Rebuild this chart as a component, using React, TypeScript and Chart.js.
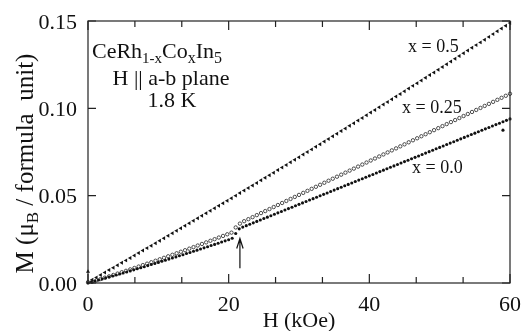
import React, { useEffect, useRef } from 'react';
import { Chart, registerables } from 'chart.js';

Chart.register(...registerables);

// ---- axis ticks ----
const X_TICKS = [0, 20, 40, 60];
const X_TICK_LABELS = ['0', '20', '40', '60'];
const X_MINOR_TICKS = [6.667, 13.333, 26.667, 33.333, 46.667, 53.333];
const Y_TICKS = [0, 0.05, 0.1, 0.15];
const Y_TICK_LABELS = ['0.00', '0.05', '0.10', '0.15'];

// ---- series: x = 0.5 (triangles) ----
const H_X05 = [0, 0.6, 1.2, 1.8, 2.4, 3, 3.6, 4.2, 4.8, 5.4, 6, 6.6, 7.2, 7.8, 8.4, 9, 9.6, 10.2, 10.8, 11.4,
  12, 12.6, 13.2, 13.8, 14.4, 15, 15.6, 16.2, 16.8, 17.4, 18, 18.6, 19.2, 19.8, 20.4, 21, 21.6, 22.2, 22.8, 23.4,
  24, 24.6, 25.2, 25.8, 26.4, 27, 27.6, 28.2, 28.8, 29.4, 30, 30.6, 31.2, 31.8, 32.4, 33, 33.6, 34.2, 34.8, 35.4,
  36, 36.6, 37.2, 37.8, 38.4, 39, 39.6, 40.2, 40.8, 41.4, 42, 42.6, 43.2, 43.8, 44.4, 45, 45.6, 46.2, 46.8, 47.4,
  48, 48.6, 49.2, 49.8, 50.4, 51, 51.6, 52.2, 52.8, 53.4, 54, 54.6, 55.2, 55.8, 56.4, 57, 57.6, 58.2, 58.8, 59.4, 60];
const M_X05 = [0.0065, 0.00183, 0.00321, 0.0046, 0.00599, 0.00738, 0.00877, 0.01016, 0.01156, 0.01295,
  0.01435, 0.01576, 0.01716, 0.01857, 0.01997, 0.02138, 0.0228, 0.02421, 0.02563, 0.02704,
  0.02847, 0.02989, 0.03131, 0.03274, 0.03417, 0.0356, 0.03703, 0.03847, 0.0399, 0.04134,
  0.04278, 0.04423, 0.04567, 0.04712, 0.04857, 0.05002, 0.05147, 0.05293, 0.05439, 0.05585,
  0.05731, 0.05877, 0.06024, 0.06171, 0.06318, 0.06465, 0.06612, 0.0676, 0.06908, 0.07056,
  0.07204, 0.07353, 0.07501, 0.0765, 0.07799, 0.07949, 0.08098, 0.08248, 0.08398, 0.08548,
  0.08698, 0.08849, 0.09, 0.0915, 0.09302, 0.09453, 0.09605, 0.09756, 0.09908, 0.1006,
  0.10213, 0.10366, 0.10518, 0.10672, 0.10825, 0.10978, 0.11132, 0.11286, 0.1144, 0.11594,
  0.11749, 0.11903, 0.12058, 0.12213, 0.12369, 0.12524, 0.1268, 0.12836, 0.12992, 0.13148,
  0.13305, 0.13462, 0.13619, 0.13776, 0.13933, 0.14091, 0.14249, 0.14407, 0.14565, 0.14723, 0.14882];

// ---- series: x = 0.25 (open circles) ----
const H_X025 = [0, 0.6, 1.2, 1.8, 2.4, 3, 3.6, 4.2, 4.8, 5.4, 6, 6.6, 7.2, 7.8, 8.4, 9, 9.6, 10.2, 10.8, 11.4,
  12, 12.6, 13.2, 13.8, 14.4, 15, 15.6, 16.2, 16.8, 17.4, 18, 18.6, 19.2, 19.8, 20.4, 21, 21.6,
  22.2, 22.8, 23.4, 24, 24.6, 25.2, 25.8, 26.4, 27, 27.6, 28.2, 28.8, 29.4, 30, 30.6, 31.2, 31.8, 32.4,
  33, 33.6, 34.2, 34.8, 35.4, 36, 36.6, 37.2, 37.8, 38.4, 39, 39.6, 40.2, 40.8, 41.4, 42, 42.6, 43.2,
  43.8, 44.4, 45, 45.6, 46.2, 46.8, 47.4, 48, 48.6, 49.2, 49.8, 50.4, 51, 51.6, 52.2, 52.8, 53.4, 54,
  54.6, 55.2, 55.8, 56.4, 57, 57.6, 58.2, 58.8, 59.4, 60];
const M_X025 = [0.0005, 0.00075, 0.00151, 0.00228, 0.00305, 0.00382, 0.0046, 0.00539, 0.00618, 0.00698,
  0.00779, 0.0086, 0.00941, 0.01024, 0.01106, 0.0119, 0.01274, 0.01358, 0.01443, 0.01529,
  0.01615, 0.01702, 0.01789, 0.01877, 0.01966, 0.02055, 0.02145, 0.02235, 0.02326, 0.02417,
  0.02509, 0.02602, 0.02695, 0.02789, 0.02883, 0.0318, 0.034,
  0.03539, 0.03654, 0.0377, 0.03886, 0.04002, 0.04118, 0.04233, 0.04349, 0.04465, 0.04581,
  0.04697, 0.04812, 0.04928, 0.05044, 0.0516, 0.05276, 0.05391, 0.05507, 0.05623, 0.05739,
  0.05855, 0.0597, 0.06086, 0.06202, 0.06318, 0.06434, 0.06549, 0.06665, 0.06781, 0.06897,
  0.07013, 0.07128, 0.07244, 0.0736, 0.07476, 0.07592, 0.07707, 0.07823, 0.07939, 0.08055,
  0.08171, 0.08286, 0.08402, 0.08518, 0.08634, 0.0875, 0.08865, 0.08981, 0.09097, 0.09213,
  0.09329, 0.09444, 0.0956, 0.09676, 0.09792, 0.09908, 0.10023, 0.10139, 0.10255, 0.10371,
  0.10487, 0.10602, 0.10718, 0.10834];

// ---- series: x = 0.0 (filled dots) ----
const H_X00 = [0, 0.5, 1, 1.5, 2, 2.5, 3, 3.5, 4, 4.5, 5, 5.5, 6, 6.5, 7, 7.5, 8, 8.5, 9, 9.5,
  10, 10.5, 11, 11.5, 12, 12.5, 13, 13.5, 14, 14.5, 15, 15.5, 16, 16.5, 17, 17.5, 18, 18.5, 19, 19.5,
  20, 20.5, 21, 21.5, 22, 22.5, 23, 23.5, 24, 24.5, 25, 25.5, 26, 26.5, 27, 27.5, 28, 28.5, 29, 29.5,
  30, 30.5, 31, 31.5, 32, 32.5, 33, 33.5, 34, 34.5, 35, 35.5, 36, 36.5, 37, 37.5, 38, 38.5, 39, 39.5,
  40, 40.5, 41, 41.5, 42, 42.5, 43, 43.5, 44, 44.5, 45, 45.5, 46, 46.5, 47, 47.5, 48, 48.5, 49, 49.5,
  50, 50.5, 51, 51.5, 52, 52.5, 53, 53.5, 54, 54.5, 55, 55.5, 56, 56.5, 57, 57.5, 58, 58.5, 59, 59.5,
  60, 59.0];
const M_X00 = [0, 0.00056, 0.00113, 0.00169, 0.00226, 0.00284, 0.00341, 0.00399, 0.00458, 0.00516,
  0.00575, 0.00634, 0.00694, 0.00753, 0.00813, 0.00874, 0.00934, 0.00995, 0.01057, 0.01118,
  0.0118, 0.01242, 0.01305, 0.01367, 0.0143, 0.01494, 0.01557, 0.01621, 0.01686, 0.0175,
  0.01815, 0.0188, 0.01946, 0.02011, 0.02077, 0.02144, 0.0221, 0.02277, 0.02345, 0.02412,
  0.0248, 0.0256, 0.0283, 0.031, 0.032, 0.03282, 0.03363, 0.03445, 0.03526, 0.03608,
  0.03689, 0.03771, 0.03852, 0.03934, 0.04015, 0.04097, 0.04178, 0.0426, 0.04341, 0.04423,
  0.04504, 0.04586, 0.04667, 0.04749, 0.0483, 0.04912, 0.04993, 0.05075, 0.05156, 0.05238,
  0.05319, 0.05401, 0.05482, 0.05564, 0.05645, 0.05727, 0.05808, 0.0589, 0.05971, 0.06053,
  0.06134, 0.06216, 0.06297, 0.06379, 0.0646, 0.06542, 0.06623, 0.06705, 0.06786, 0.06868,
  0.06949, 0.07031, 0.07112, 0.07194, 0.07275, 0.07357, 0.07438, 0.0752, 0.07601, 0.07683,
  0.07764, 0.07846, 0.07927, 0.08009, 0.0809, 0.08172, 0.08253, 0.08335, 0.08416, 0.08498,
  0.08579, 0.08661, 0.08742, 0.08824, 0.08905, 0.08987, 0.09068, 0.0915, 0.09231, 0.09313,
  0.09394, 0.0875];

const SERIES_LABELS = ['x = 0.5', 'x = 0.25', 'x = 0.0'];
const ARROW_H = 21.6;
const ARROW_M_FROM = 0.0085;
const ARROW_M_TO = 0.0255;

const FONT = "'Liberation Serif', 'Times New Roman', serif";
type Part = [string, number, number];

function drawParts(ctx: CanvasRenderingContext2D, parts: Part[], x: number, y: number, align: 'left' | 'center' | 'right') {
  let total = 0;
  const widths: number[] = [];
  for (const p of parts) {
    ctx.font = `${p[1]}px ${FONT}`;
    const w = ctx.measureText(p[0]).width;
    widths.push(w);
    total += w;
  }
  let cx = align === 'center' ? x - total / 2 : align === 'right' ? x - total : x;
  ctx.textAlign = 'left';
  ctx.textBaseline = 'alphabetic';
  parts.forEach((p, i) => {
    ctx.font = `${p[1]}px ${FONT}`;
    ctx.fillText(p[0], cx, y + p[2]);
    cx += widths[i];
  });
  return total;
}

const decorPlugin = {
  id: 'decor',
  afterDraw(chart: any) {
    const { ctx, chartArea: a, scales } = chart;
    const xs = scales.x;
    const ys = scales.y;
    ctx.save();
    ctx.strokeStyle = '#222';
    ctx.lineWidth = 1.2;
    ctx.strokeRect(a.left, a.top, a.right - a.left, a.bottom - a.top);
    ctx.beginPath();
    X_TICKS.forEach((v) => {
      const px = xs.getPixelForValue(v);
      ctx.moveTo(px, a.bottom); ctx.lineTo(px, a.bottom - 9);
      ctx.moveTo(px, a.top); ctx.lineTo(px, a.top + 9);
    });
    X_MINOR_TICKS.forEach((v) => {
      const px = xs.getPixelForValue(v);
      ctx.moveTo(px, a.bottom); ctx.lineTo(px, a.bottom - 6);
      ctx.moveTo(px, a.top); ctx.lineTo(px, a.top + 6);
    });
    Y_TICKS.forEach((v) => {
      const py = ys.getPixelForValue(v);
      ctx.moveTo(a.left, py); ctx.lineTo(a.left + 8, py);
      ctx.moveTo(a.right, py); ctx.lineTo(a.right - 8, py);
    });
    ctx.stroke();

    ctx.fillStyle = '#111';
    ctx.font = `22px ${FONT}`;
    ctx.textBaseline = 'alphabetic';
    ctx.textAlign = 'center';
    X_TICKS.forEach((v, i) => {
      ctx.fillText(X_TICK_LABELS[i], xs.getPixelForValue(v), a.bottom + 28);
    });
    ctx.textAlign = 'right';
    Y_TICKS.forEach((v, i) => {
      ctx.fillText(Y_TICK_LABELS[i], a.left - 11, ys.getPixelForValue(v) + 7.5);
    });

    // x title
    drawParts(ctx, [['H (kOe)', 22, 0]], (a.left + a.right) / 2, a.bottom + 44, 'center');

    // y title
    ctx.save();
    ctx.translate(33, 163.5);
    ctx.rotate(-Math.PI / 2);
    drawParts(ctx, [['M (\u03bc', 25, 0], ['B', 17, 5], [' / formula  unit)', 25, 0]], 0, 0, 'center');
    ctx.restore();

    // compound annotation
    drawParts(ctx, [['CeRh', 22, 0], ['1-x', 15, 5], ['Co', 22, 0], ['x', 16, 5], ['In', 22, 0], ['5', 16, 5]], a.left + 4, a.top + 37, 'left');
    drawParts(ctx, [['H || a-b plane', 22, 0]], a.left + 83, a.top + 64, 'center');
    drawParts(ctx, [['1.8 K', 22, 0]], a.left + 84, a.top + 86, 'center');

    // series labels
    drawParts(ctx, [[SERIES_LABELS[0], 18, 0]], a.left + 320, a.top + 31, 'left');
    drawParts(ctx, [[SERIES_LABELS[1], 18, 0]], a.left + 314, a.top + 92, 'left');
    drawParts(ctx, [[SERIES_LABELS[2], 18, 0]], a.left + 324, a.top + 152, 'left');

    // arrow
    const ax = xs.getPixelForValue(ARROW_H);
    const y0 = ys.getPixelForValue(ARROW_M_FROM);
    const y1 = ys.getPixelForValue(ARROW_M_TO);
    ctx.strokeStyle = '#111';
    ctx.lineWidth = 1.2;
    ctx.beginPath();
    ctx.moveTo(ax, y0); ctx.lineTo(ax, y1);
    ctx.moveTo(ax - 3.2, y1 + 10); ctx.lineTo(ax, y1); ctx.lineTo(ax + 3.2, y1 + 10);
    ctx.stroke();
    ctx.restore();
  },
};

function pts(hs: number[], ms: number[]) {
  return hs.map((h, i) => ({ x: h, y: ms[i] }));
}

export default function App() {
  const ref = useRef<HTMLCanvasElement | null>(null);
  useEffect(() => {
    if (!ref.current) return;
    const chart = new Chart(ref.current, {
      type: 'scatter',
      data: {
        datasets: [
          {
            label: SERIES_LABELS[2],
            data: pts(H_X00, M_X00),
            pointStyle: 'circle',
            pointRadius: 1.55,
            pointBackgroundColor: '#111',
            pointBorderWidth: 0,
            clip: false,
          } as any,
          {
            label: SERIES_LABELS[1],
            data: pts(H_X025, M_X025),
            pointStyle: 'circle',
            pointRadius: 1.7,
            pointBackgroundColor: 'rgba(255,255,255,0)',
            pointBorderColor: '#222',
            pointBorderWidth: 0.8,
            clip: false,
          } as any,
          {
            label: SERIES_LABELS[0],
            data: pts(H_X05, M_X05),
            pointStyle: 'triangle',
            pointRadius: 2.3,
            pointRotation: (c: any) => (c.dataIndex === 0 ? 0 : -90),
            pointBackgroundColor: '#111',
            pointBorderWidth: 0,
            clip: false,
          } as any,
        ],
      },
      options: {
        responsive: false,
        animation: false,
        events: [],
        layout: { padding: { left: 0, right: 12, top: 21, bottom: 0 } },
        plugins: { legend: { display: false }, tooltip: { enabled: false } },
        scales: {
          x: {
            type: 'linear',
            min: 0,
            max: 60,
            ticks: { display: false },
            grid: { display: false, drawTicks: false },
            border: { display: false },
            afterBuildTicks: (s: any) => { s.ticks = X_TICKS.map((v) => ({ value: v })); },
            afterFit: (s: any) => { s.height = 48; },
          },
          y: {
            type: 'linear',
            min: 0,
            max: 0.15,
            ticks: { display: false },
            grid: { display: false, drawTicks: false },
            border: { display: false },
            afterBuildTicks: (s: any) => { s.ticks = Y_TICKS.map((v) => ({ value: v })); },
            afterFit: (s: any) => { s.width = 88; },
          },
        },
      } as any,
      plugins: [decorPlugin],
    });
    return () => chart.destroy();
  }, []);
  return (
    <div style={{ position: 'absolute', left: 0, top: 0, width: 522, height: 331, background: '#fff' }}>
      <canvas ref={ref} width={522} height={331} style={{ display: 'block' }} />
    </div>
  );
}
